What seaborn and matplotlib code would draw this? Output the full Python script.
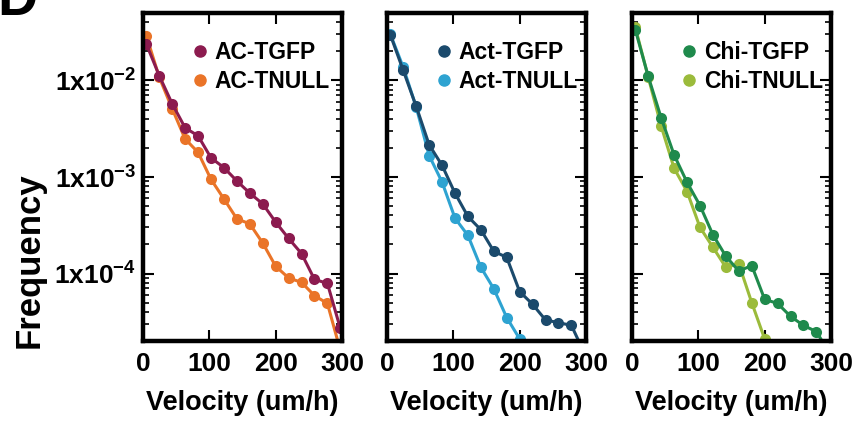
import matplotlib
matplotlib.use("Agg")
import matplotlib.pyplot as plt
from matplotlib.lines import Line2D
import pandas as pd
import seaborn as sns

sns.set_style("ticks")
plt.rcParams['font.family'] = ['Liberation Sans', 'DejaVu Sans']
plt.rcParams['font.weight'] = 'bold'
plt.rcParams['axes.labelweight'] = 'bold'
plt.rcParams['text.color'] = 'black'
plt.rcParams['axes.labelcolor'] = 'black'
plt.rcParams['xtick.color'] = 'black'
plt.rcParams['ytick.color'] = 'black'
plt.rcParams['mathtext.fontset'] = 'custom'
plt.rcParams['mathtext.rm'] = 'Liberation Sans:bold'
plt.rcParams['mathtext.bf'] = 'Liberation Sans:bold'
plt.rcParams['mathtext.default'] = 'rm'

# velocity bins (um/h)
velocity = [5, 24.5, 44, 63.5, 83, 102.5, 122, 141.5, 161, 180.5, 200, 219.5, 239, 258.5, 278, 297.5]

# frequencies
ac_tgfp = [0.0239, 0.0112, 0.00574, 0.00323, 0.00267, 0.00158, 0.00125, 0.00091,
           0.00068, 0.000527, 0.000341, 0.000231, 0.000161, 8.7e-5, 7.9e-5, 2.7e-5]
ac_tnull = [0.0291, 0.0108, 0.0051, 0.00248, 0.0018, 0.000946, 0.000593, 0.000369,
            0.000327, 0.000207, 0.000119, 9.0e-5, 8.1e-5, 5.9e-5, 4.9e-5, 1.6e-5]
act_tgfp = [0.0298, 0.0127, 0.0054, 0.00216, 0.00132, 0.00068, 0.00039, 0.000284,
            0.00017, 0.000147, 6.5e-5, 4.8e-5, 3.3e-5, 3.1e-5, 2.9e-5, 1.5e-5]
act_tnull = [0.0302, 0.0137, 0.0053, 0.00167, 0.000887, 0.000375, 0.000248, 0.000116,
             6.95e-5, 3.5e-5, 2.1e-5]
chi_tgfp = [0.0336, 0.011, 0.00409, 0.00169, 0.000881, 0.000506, 0.000252, 0.000151,
            0.000106, 0.000121, 5.4e-5, 4.9e-5, 3.6e-5, 2.9e-5, 2.5e-5, 1.5e-5]
chi_tnull = [0.0355, 0.0108, 0.00336, 0.00123, 0.000707, 0.000301, 0.000187, 0.000116,
             0.000126, 5.0e-5, 2.1e-5]

panels = [
    ("AC-TGFP", ac_tgfp, "#8c1b4f", "AC-TNULL", ac_tnull, "#ea7428"),
    ("Act-TGFP", act_tgfp, "#1b4a6c", "Act-TNULL", act_tnull, "#2ea3d1"),
    ("Chi-TGFP", chi_tgfp, "#1f8a4c", "Chi-TNULL", chi_tnull, "#9bbb3b"),
]

fig = plt.figure(figsize=(8.57, 4.37), dpi=100)
lefts = [143 / 857, 387 / 857, 632 / 857]
bottom = 96 / 437
width = 199 / 857
height = 328 / 437

for i, (n1, y1, c1, n2, y2, c2) in enumerate(panels):
    ax = fig.add_axes([lefts[i], bottom, width, height])
    df = pd.concat([
        pd.DataFrame({"Velocity": velocity[:len(y1)], "Frequency": y1, "Line": n1}),
        pd.DataFrame({"Velocity": velocity[:len(y2)], "Frequency": y2, "Line": n2}),
    ])
    sns.lineplot(data=df, x="Velocity", y="Frequency", hue="Line", hue_order=[n2, n1],
                 palette={n1: c1, n2: c2}, marker="o", markersize=8,
                 markeredgewidth=0, linewidth=2.2, legend=False, ax=ax)
    ax.set_yscale("log")
    ax.set_ylim(2e-5, 5e-2)
    ax.set_xlim(0, 300)
    ax.set_xticks([0, 100, 200, 300])
    ax.set_xticklabels(["0", "100", "200", "300"], fontsize=19)
    ax.set_yticks([1e-2, 1e-3, 1e-4])
    ax.yaxis.set_minor_formatter(matplotlib.ticker.NullFormatter())
    if i == 0:
        ax.set_yticklabels([r"1x10$^{-2}$", r"1x10$^{-3}$", r"1x10$^{-4}$"], fontsize=19)
    else:
        ax.set_yticklabels([])
    ax.tick_params(axis="both", which="major", direction="in", length=8, width=1.5,
                   top=True, right=True, pad=8)
    ax.tick_params(axis="y", which="minor", direction="in", length=4, width=1.2,
                   left=True, right=True)
    ax.tick_params(axis="y", which="major", pad=5)
    for sp in ax.spines.values():
        sp.set_linewidth(3.2)
        sp.set_color("black")
    ax.set_xlabel("Velocity (um/h)", fontsize=19.5, labelpad=10)
    ax.set_ylabel("")
    handles = [Line2D([], [], marker="o", linestyle="none", color=c1, markersize=8),
               Line2D([], [], marker="o", linestyle="none", color=c2, markersize=8)]
    ax.legend(handles, [n1, n2], loc="upper left", bbox_to_anchor=(0.17, 0.965),
              frameon=False, fontsize=16.5, handlelength=0.6, handletextpad=0.35,
              labelspacing=0.3, borderpad=0.2)

fig.text(29 / 857, 177 / 437, "Frequency", rotation=90, ha="center", va="center",
         fontsize=25)
fig.text(-3 / 857, 1 - 15 / 437, "D", ha="left", va="baseline", fontsize=40)

fig.savefig("out.png", dpi=100)
